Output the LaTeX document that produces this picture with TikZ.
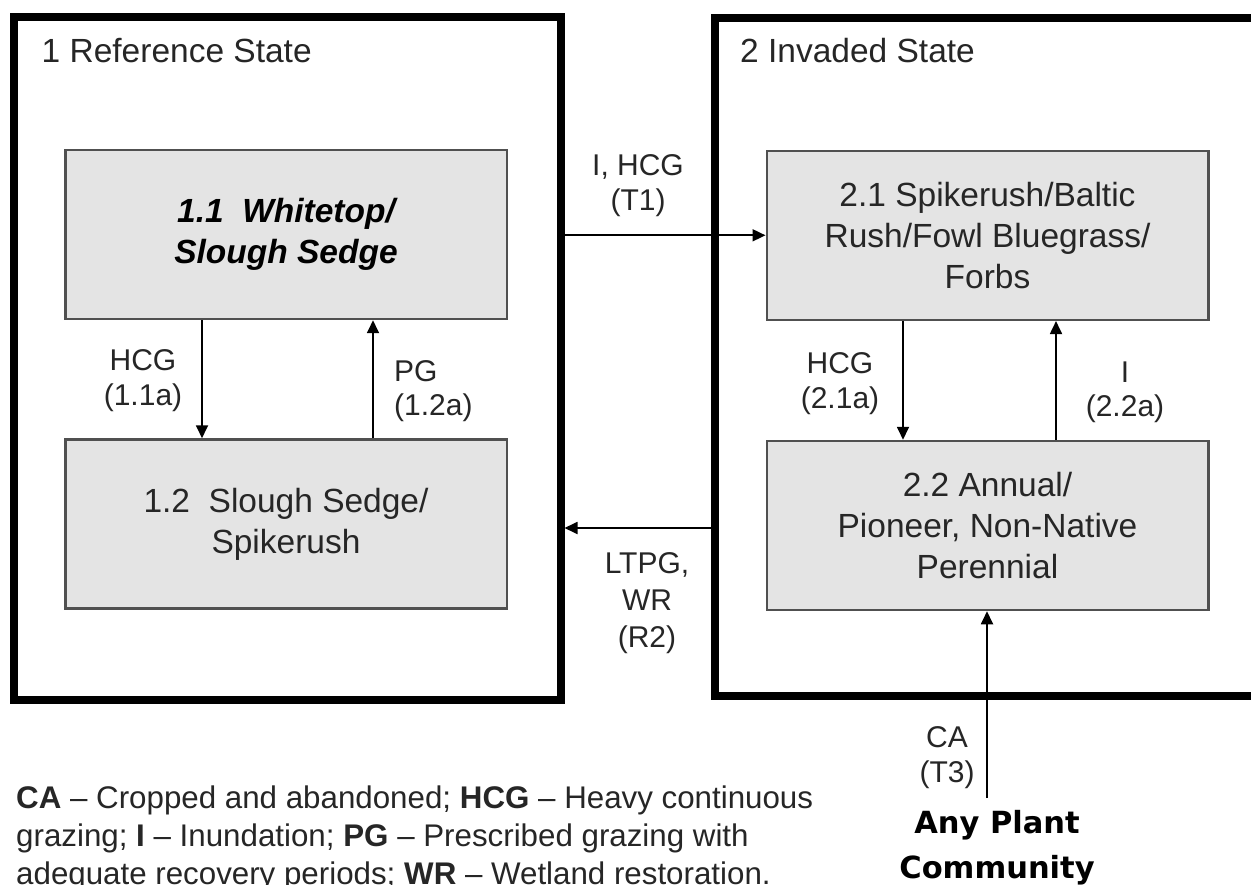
\documentclass[tikz,border=0pt]{standalone}
\usepackage{fontspec}
\setmainfont{Liberation Sans}
\newfontfamily\dejavu{DejaVu Sans}
\usetikzlibrary{arrows.meta}
\definecolor{boxfill}{HTML}{E4E4E4}
\definecolor{boxline}{HTML}{505050}
\definecolor{txt}{HTML}{262626}
\begin{document}
\begin{tikzpicture}[x=1pt,y=-1pt,
  statebox/.style={draw=black,line width=8pt,inner sep=0pt},
  phase/.style={draw=boxline,fill=boxfill,line width=2.5pt,minimum width=441.5pt,minimum height=169pt,align=center,inner sep=0pt,text=txt,font=\fontsize{33.5}{41}\selectfont},
  lbl/.style={align=center,inner sep=0pt,text=txt,font=\fontsize{30}{35}\selectfont},
  title/.style={inner sep=0pt,text=txt,font=\fontsize{33.5}{40}\selectfont},
  arr/.style={line width=1.8pt,-{Triangle[length=13pt,width=12pt]}},
]
\useasboundingbox (0,0) rectangle (1251,885);
\fill[white] (0,0) rectangle (1251,885);

% state boxes
\node[statebox,minimum width=547pt,minimum height=682pt] (ref) at (287,358.5) {};
\node[statebox,minimum width=585pt,minimum height=678pt] (inv) at (1007.5,357) {};
\node[title,anchor=base west] (reft) at (41.5,63) {1 Reference State};
\node[title,anchor=base west] (invt) at (740,63) {2 Invaded State};

% community phases
\node[phase,text=black,font=\fontsize{33.5}{41}\selectfont\bfseries\itshape] (b11) at (286,234.5) {1.1~~Whitetop/\\Slough Sedge};
\node[phase] (b12) at (286,524) {1.2~~Slough Sedge/\\Spikerush};
\node[phase] (b21) at (987.5,235.3) {2.1 Spikerush/Baltic\\Rush/Fowl Bluegrass/\\Forbs};
\node[phase] (b22) at (987.5,525.5) {2.2 Annual/\\Pioneer, Non-Native\\Perennial};

% transitions within states
\draw[arr] ([xshift=-84pt]b11.south) -- ([xshift=-84pt]b12.north);
\draw[arr] ([xshift=87pt]b12.north) -- ([xshift=87pt]b11.south);
\draw[arr] ([xshift=-84.5pt]b21.south) -- ([xshift=-84.5pt]b22.north);
\draw[arr] ([xshift=68.5pt]b22.north) -- ([xshift=68.5pt]b21.south);

% transitions between states
\draw[arr] (b21.west -| ref.east) -- (b21.west);
\draw[arr] ([yshift=-2.5pt]b22.west -| inv.west) -- ([yshift=-2.5pt]b22.west -| ref.east);

% any plant community
\node[inner sep=0pt,align=center,font=\dejavu\bfseries\fontsize{30.5}{45}\selectfont,anchor=base] (apc) at (997,878) {Any Plant\\Community};
\coordinate (apctop) at (987,798);
\draw[arr] (apctop) -- (apctop |- b22.south);

% labels (anchor base = baseline of last line)
\node[lbl,anchor=base] (l11) at (143,406) {HCG\\(1.1a)};
\node[lbl,anchor=base west,align=left] (l12) at (394,416) {PG\\(1.2a)};
\node[lbl,anchor=base] (l21) at (840,408) {HCG\\(2.1a)};
\node[lbl,anchor=base] (l22) at (1125,417) {I\\(2.2a)};
\node[lbl,anchor=base] (lt1) at (638,211) {I, HCG\\(T1)};
\node[lbl,anchor=base,font=\fontsize{30}{37}\selectfont] (lr2) at (647,647) {LTPG,\\WR\\(R2)};
\node[lbl,anchor=base] (lt3) at (947,782) {CA\\(T3)};

% legend
\node[inner sep=0pt,align=left,anchor=base west,text=txt,font=\fontsize{31.3}{38}\selectfont] (legend) at (16,884)
{\textbf{CA} – Cropped and abandoned; \textbf{HCG} – Heavy continuous\\
grazing; \textbf{I} – Inundation; \textbf{PG} – Prescribed grazing with\\
adequate recovery periods; \textbf{WR} – Wetland restoration.};
\end{tikzpicture}
\end{document}
